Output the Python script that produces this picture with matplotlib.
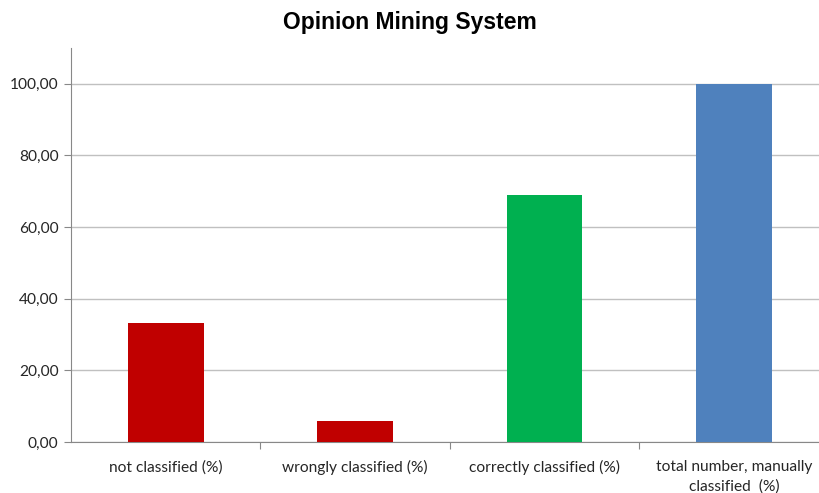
import matplotlib.pyplot as plt
from matplotlib.ticker import FixedLocator, FuncFormatter

categories = ["not classified (%)", "wrongly classified (%)",
              "correctly classified (%)", "total number, manually\nclassified  (%)"]
values = [33.3, 6.0, 69.0, 100.0]
colors = ["#C00000", "#C00000", "#00B050", "#4F81BD"]
yticks = [0, 20, 40, 60, 80, 100]

fig = plt.figure(figsize=(8.2, 4.93), dpi=100)
ax = fig.add_axes([0.0866, 0.1034, 0.924, 0.7992])

x = range(len(categories))
ax.bar(x, values, width=0.4, color=colors, zorder=3)

ax.set_xlim(-0.5, len(categories) - 0.5)
ax.set_ylim(0, 110)
ax.set_yticks(yticks)
ax.yaxis.set_major_formatter(FuncFormatter(lambda v, _: f"{v:.2f}".replace(".", ",")))
ax.grid(axis="y", color="#C0C0C0", linewidth=1, zorder=0)

# category labels sit on minor ticks, separators on major ticks
ax.xaxis.set_major_locator(FixedLocator([0.5, 1.5, 2.5]))
ax.xaxis.set_major_formatter(FuncFormatter(lambda v, _: ""))
ax.xaxis.set_minor_locator(FixedLocator(list(x)))
ax.set_xticklabels(categories, minor=True)
ax.tick_params(axis="x", which="major", length=5, color="#888888")
ax.tick_params(axis="x", which="minor", length=0, pad=13)
ax.tick_params(axis="y", length=5, color="#888888", pad=4)

for lbl in ax.get_xticklabels(minor=True) + ax.get_yticklabels():
    lbl.set_fontfamily("Lato")
    lbl.set_fontsize(11.2)
    lbl.set_color("#262626")
for lbl in ax.get_xticklabels(minor=True):
    lbl.set_verticalalignment("top")
    lbl.set_linespacing(1.5)

for side in ["top", "right"]:
    ax.spines[side].set_visible(False)
for side in ["left", "bottom"]:
    ax.spines[side].set_color("#888888")

fig.text(0.5, 0.955, "Opinion Mining System", ha="center", va="center",
         fontfamily="Liberation Sans", fontweight="bold", fontsize=16.5)

fig.savefig("out.png", dpi=100)
